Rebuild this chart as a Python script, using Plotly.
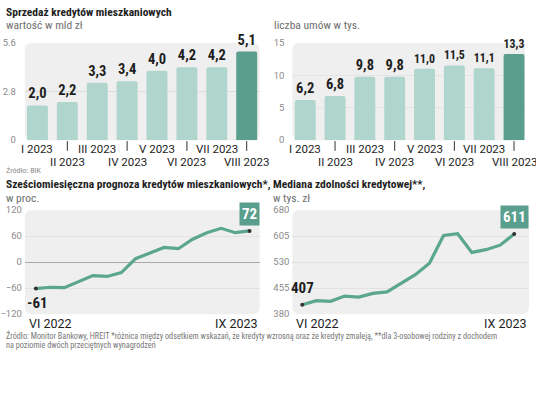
import plotly.graph_objects as go

# ---------------- data ----------------
bar_months = ["I 2023", "II 2023", "III 2023", "IV 2023", "V 2023", "VI 2023", "VII 2023", "VIII 2023"]
sales_bln = [2.0, 2.2, 3.3, 3.4, 4.0, 4.2, 4.2, 5.1]
contracts_k = [6.2, 6.8, 9.8, 9.8, 11.0, 11.5, 11.1, 13.3]

line_months = ["VI 2022", "VII 2022", "VIII 2022", "IX 2022", "X 2022", "XI 2022", "XII 2022",
               "I 2023", "II 2023", "III 2023", "IV 2023", "V 2023", "VI 2023", "VII 2023",
               "VIII 2023", "IX 2023"]
forecast_pct = [-61, -58, -59, -46, -31, -33, -24, 8, 21, 34, 31, 53, 68, 78, 68, 72]
capacity_k = [407, 419, 417, 432, 429, 440, 444, 469, 494, 527, 607, 612, 558, 566, 579, 611]

yticks_sales = [0, 2.8, 5.6]
yticks_contracts = [0, 5, 10, 15]
yticks_forecast = [-120, -60, 0, 60, 120]
yticks_capacity = [380, 455, 530, 605, 680]

# ---------------- style ----------------
W, H = 536, 394
PALE = "#afd5cd"
DARK = "#5a9e8e"
LINE = "#5ba68f"
BG = "#efefef"
TXT = "#1e1e1e"
FONT = "Liberation Sans Narrow, Roboto Condensed, Roboto, sans-serif"
LABFONT = "Roboto, sans-serif"


def px(x):
    return x / W


def py(y):
    return 1 - y / H


def fmt(v):
    return f"{v:.1f}".replace(".", ",")


fig = go.Figure()

# bars
for vals, xa, ya in [(sales_bln, "x", "y"), (contracts_k, "x2", "y2")]:
    colors = [DARK if i == len(vals) - 1 else PALE for i in range(len(vals))]
    fig.add_trace(go.Bar(
        x=bar_months, y=vals, xaxis=xa, yaxis=ya,
        marker=dict(color=colors, cornerradius=2, line=dict(width=0)),
        text=[fmt(v) for v in vals], textposition="outside",
        textfont=dict(family=FONT, size=14.5, color=TXT, weight="bold"),
        cliponaxis=False, hoverinfo="skip", showlegend=False,
    ))

# lines
for vals, xa, ya in [(forecast_pct, "x3", "y3"), (capacity_k, "x4", "y4")]:
    fig.add_trace(go.Scatter(
        x=line_months, y=vals, xaxis=xa, yaxis=ya, mode="lines",
        line=dict(color=LINE, width=3.2), hoverinfo="skip", showlegend=False,
    ))
    fig.add_trace(go.Scatter(
        x=[line_months[0], line_months[-1]], y=[vals[0], vals[-1]], xaxis=xa, yaxis=ya,
        mode="markers", marker=dict(color="#333333", size=4),
        hoverinfo="skip", showlegend=False, cliponaxis=False,
    ))

ydom_top = [py(138), py(38)]
ydom_bot = [py(317), py(210)]

common_x = dict(showgrid=False, zeroline=False, showticklabels=False, showline=False,
                fixedrange=True)
tickfont = dict(family=LABFONT, size=9.5, color="#8a8a8a")

fig.update_layout(
    width=W, height=H, margin=dict(l=0, r=0, t=0, b=0),
    paper_bgcolor="white", plot_bgcolor="rgba(0,0,0,0)",
    bargap=0.3,
    xaxis=dict(domain=[px(22), px(258)], anchor="y", range=[-0.42, 7.43], **common_x),
    xaxis2=dict(domain=[px(291), px(525)], anchor="y2", range=[-0.43, 7.37], **common_x),
    xaxis3=dict(domain=[px(22), px(258)], anchor="y3", range=[-0.77, 15.7], **common_x),
    xaxis4=dict(domain=[px(291), px(529)], anchor="y4", range=[-0.7, 16.05], **common_x),
    yaxis=dict(domain=ydom_top, anchor="x", range=[0, 5.6], tickvals=yticks_sales,
               ticktext=[str(v) for v in yticks_sales], gridcolor="#dcdcdc", zeroline=False,
               tickfont=tickfont, ticklabelstandoff=8, fixedrange=True),
    yaxis2=dict(domain=ydom_top, anchor="x2", range=[0, 15], tickvals=yticks_contracts,
                gridcolor="#e4e4e4", zeroline=False, tickfont=tickfont,
                ticklabelstandoff=7, fixedrange=True),
    yaxis3=dict(domain=ydom_bot, anchor="x3", range=[-120, 120], tickvals=yticks_forecast,
                gridcolor="#e2e2e2", zeroline=True, zerolinecolor="#a8a8a8", zerolinewidth=1,
                tickfont=tickfont, ticklabelstandoff=2, fixedrange=True),
    yaxis4=dict(domain=ydom_bot, anchor="x4", range=[380, 680], tickvals=yticks_capacity,
                gridcolor="#e2e2e2", zeroline=False, tickfont=tickfont,
                ticklabelstandoff=2, fixedrange=True),
)


# rounded backgrounds
def rounded_bg(xref, yref, wpx, hpx, r=7):
    rx, ry = r / wpx, r / hpx
    path = (f"M {rx},0 L {1-rx},0 Q 1,0 1,{ry} L 1,{1-ry} Q 1,1 {1-rx},1 "
            f"L {rx},1 Q 0,1 0,{1-ry} L 0,{ry} Q 0,0 {rx},0 Z")
    fig.add_shape(type="path", path=path, xref=xref + " domain", yref=yref + " domain",
                  fillcolor=BG, line=dict(width=0), layer="below")


rounded_bg("x", "y", 236, 100)
rounded_bg("x2", "y2", 234, 100)
rounded_bg("x3", "y3", 236, 107)
rounded_bg("x4", "y4", 238, 107)

# category labels for bar charts (two staggered rows)
for xa, ya in [("x", "y"), ("x2", "y2")]:
    for i, m in enumerate(bar_months):
        even = i % 2 == 1
        fig.add_annotation(x=m, y=0, xref=xa, yref=ya, text=m, showarrow=False,
                           yanchor="top", yshift=-12.5 if even else 0,
                           font=dict(family=LABFONT, size=11.5, color=TXT))
        if even:
            fig.add_shape(type="line", x0=m, x1=m, xref=xa, yref=ya + " domain",
                          y0=-0.01, y1=-0.11, line=dict(color="#333333", width=1))

# end labels for line charts
fig.add_annotation(x=line_months[0], y=forecast_pct[0], xref="x3", yref="y3",
                   text=str(forecast_pct[0]), showarrow=False, yanchor="top", yshift=-3,
                   xshift=2, font=dict(family=FONT, size=15, color=TXT, weight="bold"))
fig.add_annotation(x=line_months[-1], y=forecast_pct[-1], xref="x3", yref="y3",
                   text=str(forecast_pct[-1]), showarrow=False, yanchor="bottom", yshift=5,
                   bgcolor=DARK, borderpad=2,
                   font=dict(family=FONT, size=15, color="white", weight="bold"))
fig.add_annotation(x=line_months[0], y=capacity_k[0], xref="x4", yref="y4",
                   text=str(capacity_k[0]), showarrow=False, yanchor="bottom", yshift=6,
                   font=dict(family=FONT, size=15, color=TXT, weight="bold"))
fig.add_annotation(x=line_months[-1], y=capacity_k[-1], xref="x4", yref="y4",
                   text=str(capacity_k[-1]), showarrow=False, yanchor="bottom", yshift=5,
                   bgcolor=DARK, borderpad=2,
                   font=dict(family=FONT, size=15, color="white", weight="bold"))

# first / last month labels under line charts
for xa in ["x3", "x4"]:
    ya = "y" + xa[1:]
    fig.add_annotation(x=0, y=0, xref=xa + " domain", yref=ya + " domain", text=line_months[0],
                       xanchor="left", yanchor="top", showarrow=False, yshift=0, xshift=2,
                       font=dict(family=LABFONT, size=12.5, color=TXT))
    fig.add_annotation(x=1, y=0, xref=xa + " domain", yref=ya + " domain", text=line_months[-1],
                       xanchor="right", yanchor="top", showarrow=False, yshift=0,
                       font=dict(family=LABFONT, size=12.5, color=TXT))


def text(x, y, s, size, color=TXT, bold=False, family=FONT):
    fig.add_annotation(x=px(x), y=py(y), xref="paper", yref="paper", text=s, showarrow=False,
                       xanchor="left", yanchor="middle",
                       font=dict(family=family, size=size, color=color,
                                 weight="bold" if bold else "normal"))


text(1, 6, "Sprzedaż kredytów mieszkaniowych", 11.5, bold=True)
text(1, 20, "wartość w mld zł", 11.5, color="#6e6e6e")
text(271, 20, "liczba umów w tys.", 11.5, color="#6e6e6e")
text(1, 169, "Źródło: BIK", 8, color="#8a8a8a")
text(1, 183, "Sześciomiesięczna prognoza kredytów mieszkaniowych*,", 11.5, bold=True)
text(1, 197, "w proc.", 11.5, color="#6e6e6e")
text(270, 183, "Mediana zdolności kredytowej**,", 11.5, bold=True)
text(270, 197, "w tys. zł", 11.5, color="#6e6e6e")
text(1, 339, "Źródło: Monitor Bankowy, HREIT *różnica między odsetkiem wskazań, że kredyty wzrosną "
              "oraz że kredyty zmaleją, **dla 3-osobowej rodziny z dochodem", 8.2, color="#777777")
text(1, 349, "na poziomie dwóch przeciętnych wynagrodzeń", 8.2, color="#777777")

fig.write_html("out.html", config={"displayModeBar": False},
               post_script="document.body.style.margin='0';")
